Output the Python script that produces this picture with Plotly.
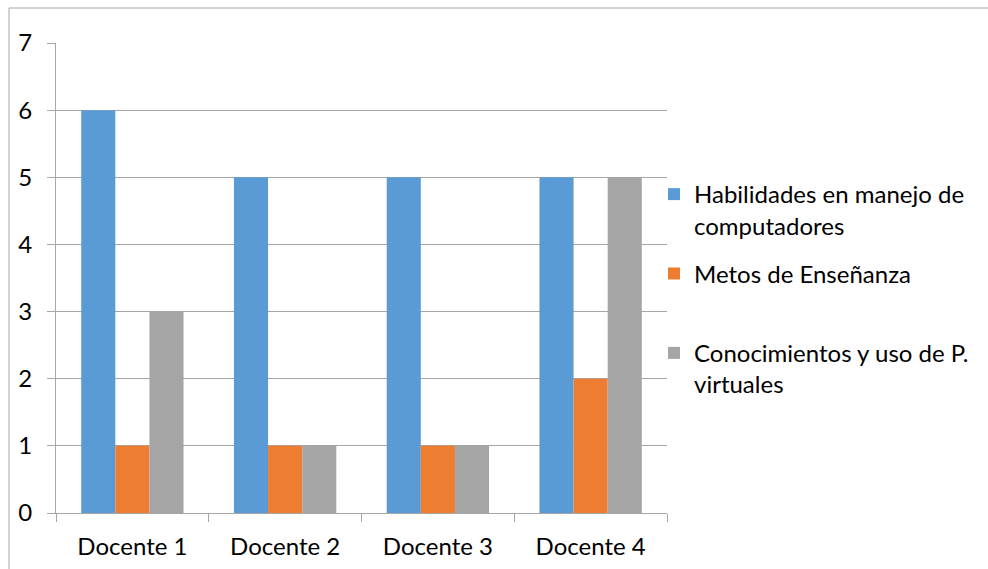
import plotly.graph_objects as go

categories = ["Docente 1", "Docente 2", "Docente 3", "Docente 4"]
series_names = [
    "Habilidades en manejo de<br>computadores",
    "Metos de Enseñanza<br> ",
    "Conocimientos y uso de P.<br>virtuales",
]
habilidades = [6, 5, 5, 5]
metodos = [1, 1, 1, 2]
conocimientos = [3, 1, 1, 5]
colors = ["#5B9BD5", "#ED7D31", "#A5A5A5"]
y_ticks = [0, 1, 2, 3, 4, 5, 6, 7]

FONT = "Lato"
FS = 24
GRID = "#A6A6A6"

fig = go.Figure()
for i, (name, vals) in enumerate(zip(series_names, [habilidades, metodos, conocimientos])):
    fig.add_trace(go.Bar(
        x=categories, y=vals, name=name,
        marker=dict(color=colors[i], line=dict(width=0)),
        legendgroup=f"g{i}",
    ))

W, H = 988, 569
L, R, T, B = 56, 321, 43, 56
pw, ph = W - L - R, H - T - B

def px_x(x):
    return (x - L) / pw

def px_y(y):
    return (H - B - y) / ph

fig.update_layout(
    width=W, height=H,
    margin=dict(l=L, r=R, t=T, b=B, pad=0, autoexpand=False),
    paper_bgcolor="white", plot_bgcolor="white",
    barmode="group", bargap=0.33, bargroupgap=0,
    font=dict(family=FONT, size=FS, color="#000000"),
    showlegend=True,
    legend=dict(
        x=px_x(654), xanchor="left",
        y=px_y(172), yanchor="top",
        valign="top", traceorder="grouped",
        tracegroupgap=14,
        font=dict(family=FONT, size=FS, color="#000000"),
        bgcolor="rgba(0,0,0,0)",
    ),
    xaxis=dict(
        showline=True, linecolor=GRID, linewidth=1, automargin=False,
        ticks="outside", tickson="boundaries", ticklen=8, tickcolor=GRID,
        showgrid=False, tickfont=dict(size=FS), ticklabelstandoff=12,
    ),
    yaxis=dict(
        range=[0, 7], tickvals=y_ticks, showgrid=True, gridcolor=GRID, gridwidth=1,
        showline=True, linecolor=GRID, linewidth=1, automargin=False,
        ticks="outside", ticklen=8, tickcolor=GRID,
        zeroline=False, tickfont=dict(size=FS), ticklabelstandoff=10,
    ),
    shapes=[
        dict(type="line", xref="paper", yref="paper",
             x0=px_x(9), x1=px_x(9), y0=px_y(8), y1=px_y(569),
             line=dict(color=GRID, width=1)),
        dict(type="line", xref="paper", yref="paper",
             x0=px_x(9), x1=px_x(988), y0=px_y(8), y1=px_y(8),
             line=dict(color=GRID, width=1)),
    ],
)

fig.write_html("out.html")
